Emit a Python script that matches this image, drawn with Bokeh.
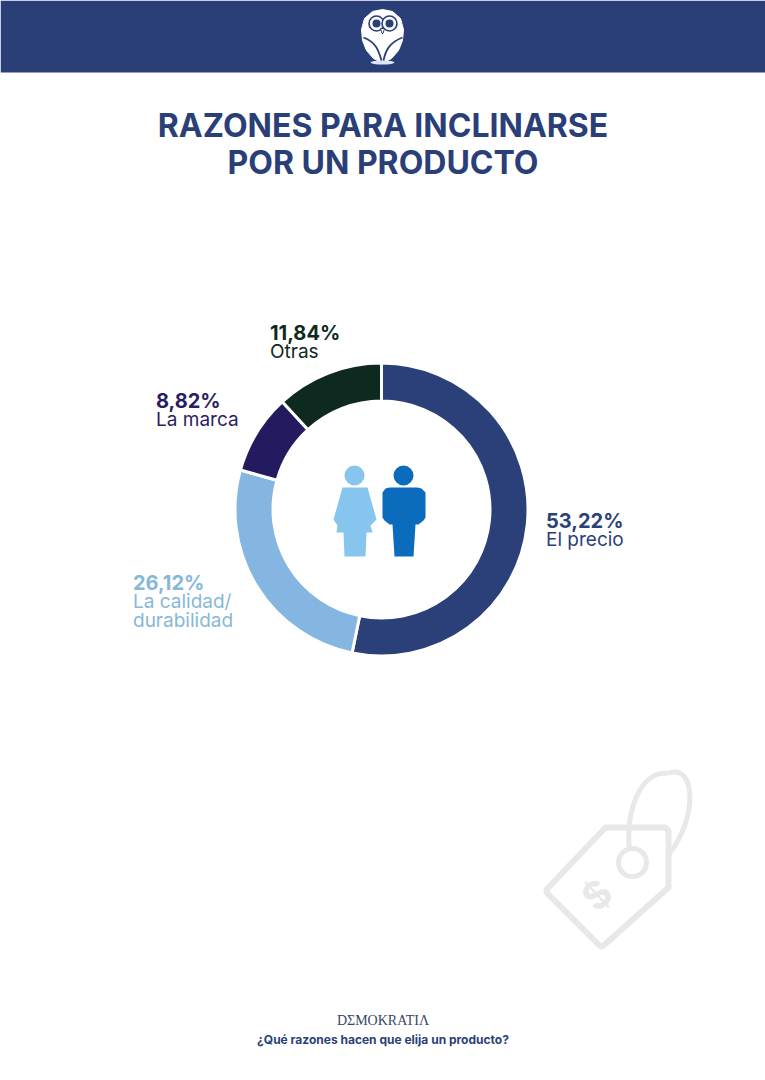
import math
from bokeh.core.properties import value
from bokeh.embed import file_html
from bokeh.models import Range1d
from bokeh.plotting import figure
from bokeh.resources import INLINE

title_lines = ["RAZONES PARA INCLINARSE", "POR UN PRODUCTO"]
categories = ["El precio", "La calidad/durabilidad", "La marca", "Otras"]
shares = [53.22, 26.12, 8.82, 11.84]
share_labels = ["53,22%", "26,12%", "8,82%", "11,84%"]
category_lines = [["El precio"], ["La calidad/", "durabilidad"], ["La marca"], ["Otras"]]
brand = "DΣMOKRATIΛ"
question = "¿Qué razones hacen que elija un producto?"

NAVY = "#2A3F78"
slice_colors = ["#2B3F79", "#85B6E1", "#231A5F", "#0E2A20"]
text_colors = ["#2B3F79", "#86B8D8", "#2A1E63", "#0E2A20"]
label_anchor = [(545.5, 520), (132.5, 582), (155.5, 400), (269.5, 332)]
SANS = value("Inter")

p = figure(width=765, height=1080, output_backend="svg", toolbar_location=None,
           x_range=Range1d(0, 765), y_range=Range1d(1080, 0),
           min_border=0, outline_line_color=None, background_fill_color="white")
p.axis.visible = False
p.grid.visible = False


def txt(x, y, s, size, color, style="normal", align="left", font=SANS, angle=0):
    p.text([x], [y], text=[s], text_font=font, text_font_size=f"{size}px",
           text_font_style=style, text_color=color, text_align=align,
           text_baseline="alphabetic", angle=angle)


# header band and owl
p.quad(left=0, right=765, top=0, bottom=72, fill_color=NAVY, line_color=None)
owl_x = [382, 392, 400, 403, 402, 398, 391, 383, 381, 373, 366, 362, 361, 364, 372]
owl_y = [9, 11, 18, 29, 40, 50, 58, 62, 62, 58, 50, 40, 29, 18, 11]
p.patch(owl_x, owl_y, fill_color="white", line_color="white", line_width=1)
p.ellipse([382], [62], width=24, height=4, fill_color="#DDE6F4", line_color=None)
p.circle([376, 389], [23, 23], radius=7.5, fill_color="white", line_color=NAVY, line_width=1.6)
p.circle([376, 389], [23, 23], radius=4, fill_color=NAVY, line_color=None)
p.patch([380, 384, 382.5, 381.5], [28, 28, 33, 33], fill_color="white", line_color=NAVY, line_width=1)
p.bezier(x0=[363, 402], y0=[37, 37], x1=[381, 383], y1=[60, 60],
         cx0=[376, 389], cy0=[42, 42], cx1=[378, 385], cy1=[50, 50],
         line_color=NAVY, line_width=1.8)

# title
for y, line in zip([125, 162], title_lines):
    txt(382.5, y, line, 32, NAVY, "bold", "center")

# donut
cum = 0.0
starts, ends = [], []
for v in shares:
    starts.append(math.pi / 2 - 2 * math.pi * cum / 100)
    cum += v
    ends.append(math.pi / 2 - 2 * math.pi * cum / 100)
p.annular_wedge(x=[381] * 4, y=[509] * 4, inner_radius=108.5, outer_radius=146.5,
                start_angle=starts, end_angle=ends, direction="clock",
                fill_color=slice_colors, line_color="white", line_width=3)

# labels
for (x, y), pct, lines, col in zip(label_anchor, share_labels, category_lines, text_colors):
    txt(x, y, pct, 20, col, "bold")
    for i, line in enumerate(lines):
        txt(x, y + 19 + i * 19, line, 19, col, "normal")

# people icons
p.circle([354], [475], radius=10, fill_color="#85C5EE", line_color=None)
p.patch([342, 367, 376, 370, 372, 366, 365, 344, 343, 336, 337, 333],
        [487, 487, 519, 525, 532, 532, 556, 556, 532, 532, 525, 519],
        fill_color="#85C5EE", line_color=None)
p.circle([403], [475], radius=10, fill_color="#0B6BBD", line_color=None)
p.patch([389, 417, 421, 425, 425, 423, 418, 415, 413, 394, 392, 389, 384, 382, 382, 385],
        [487, 487, 488, 492, 517, 520, 524, 524, 556, 556, 524, 524, 520, 517, 492, 488],
        fill_color="#0B6BBD", line_color=None)

# price tag watermark
TAG = "#E8E8E8"
p.patch([605, 665, 668, 668, 602, 600, 546, 546],
        [827, 827, 830, 887, 946, 946, 892, 889],
        fill_color="white", line_color=TAG, line_width=6, line_join="round")
p.circle([632], [862], radius=14, fill_color="white", line_color=TAG, line_width=5)
p.bezier(x0=[629, 669], y0=[850, 853], x1=[667, 667], y1=[773, 773],
         cx0=[625, 698], cy0=[810, 815], cx1=[640, 695], cy1=[770, 762],
         line_color=TAG, line_width=5)
txt(596, 894, "$", 38, TAG, "bold", "center", angle=0.75)

# footer
txt(382.5, 1020, brand, 14, "#3B4468", "normal", "center", font=value("Liberation Serif"))
txt(382.5, 1039, question, 12, NAVY, "bold", "center")

open("out.html", "w").write(file_html(p, INLINE))
